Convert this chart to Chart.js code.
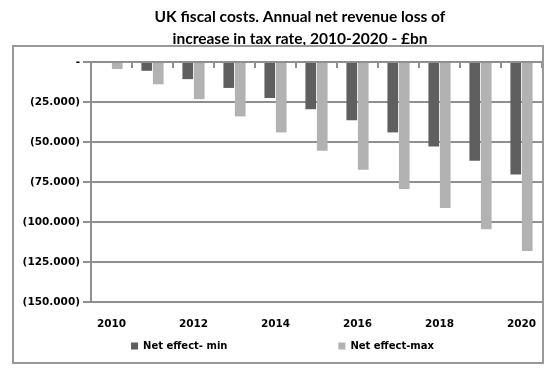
<!DOCTYPE html>
<html>
<head>
<meta charset="utf-8">
<script src="https://cdn.jsdelivr.net/npm/chart.js"></script>
<style>
  body { margin: 0; background: #fff; }
  #wrap { position: relative; width: 559px; height: 368px; }
  #frame { position: absolute; left: 12px; top: 45px; width: 528px; height: 315px;
           border: 2px solid #999; pointer-events: none; }
</style>
</head>
<body>
<div id="wrap">
  <canvas id="chart" width="559" height="368"></canvas>
  <div id="frame"></div>
</div>
<script>
// data (£bn)
const years = ['2010','2011','2012','2013','2014','2015','2016','2017','2018','2019','2020'];
const netMin = [0, -5.5, -10.7, -16.2, -22.5, -29.5, -36.4, -44.0, -52.8, -61.7, -70.3];
const netMax = [-4.4, -13.9, -23.2, -34.0, -44.0, -55.4, -67.3, -79.3, -91.3, -104.6, -118.2];
const yTicks = [0, -25, -50, -75, -100, -125, -150];

const GRID = '#8f8f8f';
const tickFont = { family: 'DejaVu Sans', size: 10.5, weight: 'bold' };

// title sits a bit right of centre in the original
const shiftTitle = {
  id: 'shiftTitle',
  afterLayout(chart) {
    if (chart.titleBlock) chart.titleBlock.left += 35;
  }
};

new Chart(document.getElementById('chart'), {
  type: 'bar',
  data: {
    labels: years,
    datasets: [
      { label: 'Net effect- min', data: netMin, backgroundColor: '#5f5f5f',
        categoryPercentage: 0.56, barPercentage: 0.93 },
      { label: 'Net effect-max', data: netMax, backgroundColor: '#b2b2b2',
        categoryPercentage: 0.56, barPercentage: 0.93 }
    ]
  },
  options: {
    responsive: false,
    animation: false,
    devicePixelRatio: 1,
    layout: { padding: { left: 23, right: 17, top: 6, bottom: 7 } },
    plugins: {
      title: {
        display: true,
        text: ['UK fiscal costs. Annual net revenue loss of', 'increase in tax rate, 2010-2020 - £bn'],
        font: { family: 'Lato', size: 15.5, weight: 'bold', lineHeight: 1.42 },
        color: '#000',
        padding: { top: 0, bottom: 12 }
      },
      legend: {
        position: 'bottom',
        labels: {
          boxWidth: 7, boxHeight: 7, padding: 10,
          color: '#000',
          font: { family: 'DejaVu Sans', size: 10, weight: 'bold' },
          // the two entries sit far apart in the original: pad the first one's text
          generateLabels: function (chart) {
            const items = Chart.defaults.plugins.legend.labels.generateLabels(chart);
            if (items.length) items[0].text = items[0].text + ' '.repeat(29);
            return items;
          }
        }
      },
      tooltip: { enabled: false }
    },
    scales: {
      x: {
        position: { y: 0 },
        grid: { offset: true, drawOnChartArea: false, tickLength: 5, color: GRID, lineWidth: 2 },
        border: { display: true, color: GRID, width: 2 },
        ticks: { display: false }
      },
      x2: {
        type: 'category',
        position: 'bottom',
        offset: true,
        afterFit: function (scale) { scale.height = 29; },
        grid: { display: false, drawTicks: false },
        border: { display: false },
        ticks: {
          autoSkip: false, maxRotation: 0, padding: 16,
          color: '#000', font: tickFont,
          callback: function (v, i) { return i % 2 === 0 ? years[i] : ''; }
        }
      },
      y: {
        min: Math.min(...yTicks),
        max: Math.max(...yTicks),
        afterFit: function (scale) { scale.width = 68; },
        grid: { color: GRID, lineWidth: 2, tickLength: 8 },
        border: { display: true, color: GRID, width: 2 },
        ticks: {
          stepSize: 25, padding: 3, color: '#000', font: tickFont,
          callback: function (v) { return v === 0 ? '-' : '(' + Math.abs(v).toFixed(3) + ')'; }
        }
      }
    }
  },
  plugins: [shiftTitle]
});
</script>
</body>
</html>
